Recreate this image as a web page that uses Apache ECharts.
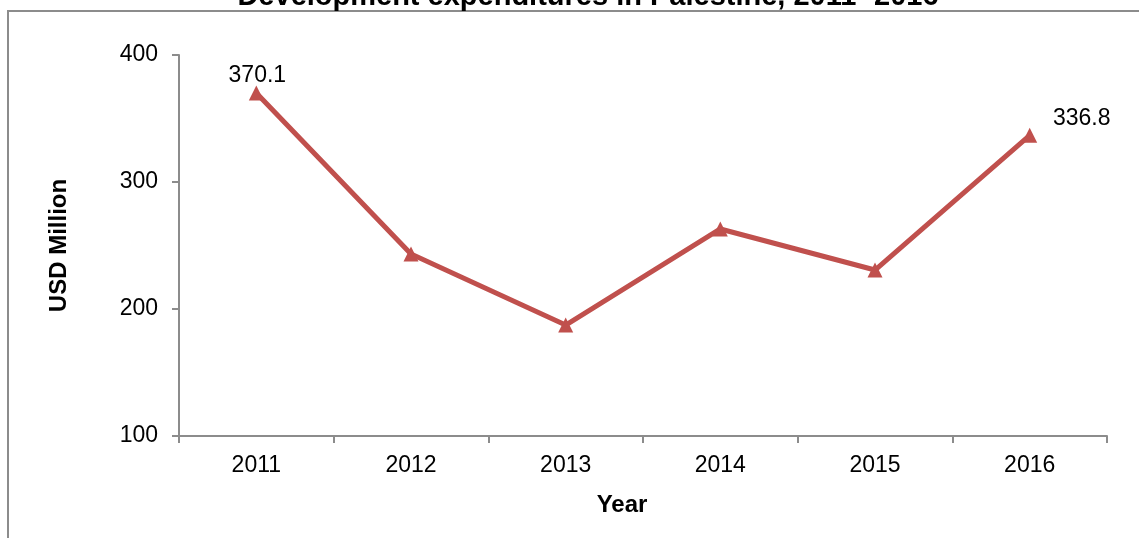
<!DOCTYPE html>
<html><head><meta charset="utf-8">
<script src="https://cdn.jsdelivr.net/npm/echarts@6/dist/echarts.min.js"></script>
<style>html,body{margin:0;padding:0;background:#fff}#c{width:1139px;height:538px}</style>
</head><body><div id="c"></div>
<script>
const years = ['2011','2012','2013','2014','2015','2016'];
const expenditures = [370.1, 243.3, 187.4, 263.0, 230.7, 336.8];
const labelledYears = ['2011','2016'];
const titleText = 'Development expenditures in Palestine, 2011- 2016';
const yName = 'USD Million';
const xName = 'Year';

const FONT = '"Liberation Sans", Arial, sans-serif';
const chart = echarts.init(document.getElementById('c'), null, {renderer:'canvas'});
const seriesData = expenditures.map((v,i)=>{
  const d = {value:v};
  if (labelledYears.includes(years[i])) {
    d.label = {show:true, position:'top', distance: 2, offset:[1,4]};
    if (i === years.length-1) d.label = {show:true, position:'top', offset:[52,6], distance:4};
  }
  return d;
});
chart.setOption({
  animation:false,
  textStyle:{fontFamily:FONT},
  title:{text:titleText, left:583, textAlign:'center', top:-23,
    textStyle:{fontFamily:FONT, fontWeight:'bold', fontSize:29, color:'#000'}},
  graphic:[{type:'rect', shape:{x:8, y:11, width:1200, height:600},
    style:{fill:'none', stroke:'#8c8c8c', lineWidth:2}, silent:true}],
  grid:{left:179, right:32, top:55, bottom:102},
  xAxis:{type:'category', data:years, boundaryGap:true,
    name:xName, nameLocation:'middle', nameGap:57,
    nameTextStyle:{fontFamily:FONT, fontWeight:'bold', fontSize:24, color:'#000', padding:[0,42,0,0]},
    axisLine:{lineStyle:{color:'#8c8c8c', width:2}},
    axisTick:{show:true, length:7, alignWithLabel:false, lineStyle:{color:'#8c8c8c', width:2}},
    axisLabel:{fontFamily:FONT, fontSize:23, color:'#000', margin:18}},
  yAxis:{type:'value', min:100, max:400, interval:100,
    name:yName, nameLocation:'middle', nameGap:108,
    nameTextStyle:{fontFamily:FONT, fontWeight:'bold', fontSize:24, color:'#000'},
    axisLine:{show:true, lineStyle:{color:'#8c8c8c', width:2}},
    axisTick:{show:true, length:7, lineStyle:{color:'#8c8c8c', width:2}},
    splitLine:{show:false},
    axisLabel:{fontFamily:FONT, fontSize:23, color:'#000', margin:21}},
  series:[{type:'line', data:seriesData, symbol:'triangle', symbolSize:15,
    lineStyle:{color:'#c0504d', width:5},
    itemStyle:{color:'#c0504d'},
    label:{show:false, fontFamily:FONT, fontSize:23, color:'#000'}}]
});
</script></body></html>
